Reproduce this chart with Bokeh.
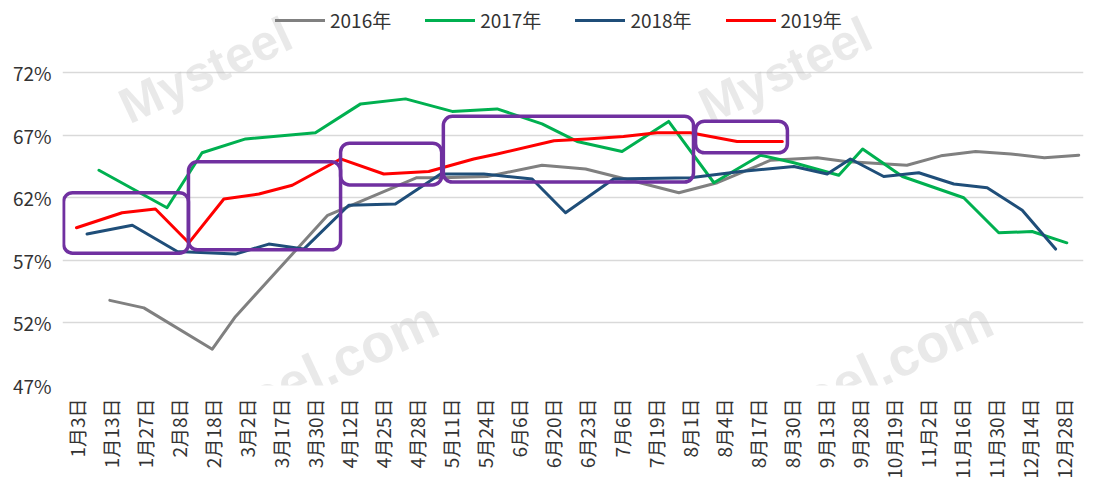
import math
from bokeh.plotting import figure
from bokeh.models import (ColumnDataSource, Legend, LegendItem, FixedTicker,
                          PrintfTickFormatter, BoxAnnotation, Label, Range1d)
from bokeh.embed import file_html
from bokeh.resources import INLINE

# ---------------- data ----------------
categories = ["1月3日", "1月13日", "1月27日", "2月8日", "2月18日", "3月2日", "3月17日",
              "3月30日", "4月12日", "4月25日", "4月28日", "5月11日", "5月24日", "6月6日",
              "6月20日", "6月23日", "7月6日", "7月19日", "8月1日", "8月4日", "8月17日",
              "8月30日", "9月13日", "9月28日", "10月19日", "11月2日", "11月16日",
              "11月30日", "12月14日", "12月28日"]

# x positions are in category units (0 = first label), y values in %
x_2016 = [0.98, 1.98, 3.99, 4.67, 7.38, 10.0, 10.73, 12.07, 13.68, 14.96, 16.13, 17.7,
          18.83, 20.4, 21.77, 22.6, 24.4, 25.4, 26.42, 27.46, 28.44, 29.45]
y_2016 = [53.8, 53.2, 49.9, 52.5, 60.6, 63.6, 63.6, 63.7, 64.6, 64.3, 63.5, 62.4,
          63.2, 65.0, 65.2, 64.9, 64.6, 65.35, 65.7, 65.5, 65.2, 65.4]

x_2017 = [0.66, 2.66, 3.69, 4.97, 7.02, 8.35, 9.67, 11.04, 12.36, 13.68, 14.71, 16.03,
          17.4, 18.73, 20.1, 21.08, 22.4, 23.1, 24.27, 26.07, 27.1, 28.08, 29.1]
y_2017 = [64.2, 61.2, 65.6, 66.7, 67.2, 69.5, 69.9, 68.9, 69.1, 67.9, 66.5, 65.7,
          68.1, 63.2, 65.4, 64.8, 63.8, 65.9, 63.7, 62.0, 59.2, 59.3, 58.4]

x_2018 = [0.31, 1.64, 2.96, 4.67, 5.65, 6.68, 8.0, 9.37, 10.7, 11.97, 13.39, 14.37,
          15.78, 18.04, 19.51, 21.08, 22.06, 22.74, 23.72, 24.75, 25.78, 26.76, 27.79, 28.77]
y_2018 = [59.1, 59.8, 57.7, 57.5, 58.3, 57.9, 61.4, 61.5, 63.9, 63.9, 63.5, 60.8,
          63.5, 63.6, 64.1, 64.5, 63.9, 65.1, 63.7, 64.0, 63.1, 62.8, 61.0, 57.9]

x_2019 = [0.0, 1.34, 2.32, 3.30, 4.33, 5.36, 6.34, 7.76, 9.03, 10.35, 11.67, 12.36,
          14.03, 15.0, 16.07, 17.06, 18.04, 19.41, 20.74]
y_2019 = [59.6, 60.8, 61.1, 58.4, 61.9, 62.3, 63.0, 65.1, 63.9, 64.1, 65.1, 65.5,
          66.55, 66.7, 66.9, 67.2, 67.2, 66.5, 66.5]

y_ticks = [47, 52, 57, 62, 67, 72]

series_names = ["2016年", "2017年", "2018年", "2019年"]
series_colors = ["#808080", "#00B050", "#1F4E79", "#FF0000"]

# highlight boxes (category units / %)
box_left = [-0.38, 3.29, 7.76, 10.78, 18.19]
box_right = [3.29, 7.76, 10.73, 18.13, 20.89]
box_bottom = [57.57, 57.84, 63.02, 63.25, 65.59]
box_top = [62.4, 64.87, 66.36, 68.51, 68.12]

FONT = "'Noto Sans CJK SC', 'Noto Sans', sans-serif"
TXT = "#333333"

# frame reaches the top of the canvas so the legend and watermark above the
# highest gridline are not clipped
p = figure(width=1096, height=481, output_backend="svg", toolbar_location=None,
           x_range=Range1d(-0.411, 29.59), y_range=Range1d(47, 77.76),
           min_border_left=62, min_border_right=13, min_border_top=0,
           min_border_bottom=95)
p.outline_line_color = None
p.background_fill_color = "white"
p.border_fill_color = "white"

# watermark
for (wx, wy, wt, ws) in [(3.79, 72.18, "Mysteel", "50px"), (6.2, 47.08, "Mysteel.com", "54px"),
                         (20.83, 72.18, "Mysteel", "50px"), (22.5, 47.08, "Mysteel.com", "54px")]:
    p.add_layout(Label(x=wx, y=wy, text=wt, angle=math.radians(25),
                       text_align="center", text_baseline="middle",
                       text_font="Liberation Sans", text_font_style="bold",
                       text_font_size=ws, text_color="#BFBFBF", text_alpha=0.35))

renderers = []
xs = [x_2016, x_2017, x_2018, x_2019]
ys = [y_2016, y_2017, y_2018, y_2019]
for xv, yv, c in zip(xs, ys, series_colors):
    src = ColumnDataSource(dict(x=xv, y=yv))
    r = p.line("x", "y", source=src, line_color=c, line_width=3,
               line_join="round", line_cap="round")
    renderers.append(r)

for l, r, b, t in zip(box_left, box_right, box_bottom, box_top):
    p.add_layout(BoxAnnotation(left=l, right=r, bottom=b, top=t, fill_alpha=0,
                               line_color="#7030A0", line_alpha=1.0, line_width=3.5,
                               border_radius=9, level="overlay"))

# axes
p.xaxis.ticker = FixedTicker(ticks=list(range(len(categories))))
p.xaxis.major_label_overrides = {i: c for i, c in enumerate(categories)}
p.xaxis.major_label_orientation = math.pi / 2
p.xaxis.major_label_text_font = FONT
p.xaxis.major_label_text_font_size = "19px"
p.xaxis.major_label_text_color = TXT
p.xaxis.major_label_standoff = 7
p.xaxis.axis_line_color = None
p.xaxis.major_tick_line_color = None
p.xaxis.minor_tick_line_color = None

p.yaxis.ticker = FixedTicker(ticks=y_ticks)
p.yaxis.formatter = PrintfTickFormatter(format="%d%%")
p.yaxis.major_label_text_font = FONT
p.yaxis.major_label_text_font_size = "19px"
p.yaxis.major_label_text_color = TXT
p.yaxis.major_label_standoff = 5
p.yaxis.axis_line_color = None
p.yaxis.major_tick_line_color = None
p.yaxis.minor_tick_line_color = None

p.xgrid.grid_line_color = None
p.ygrid.grid_line_color = "#D9D9D9"
p.ygrid.grid_line_width = 1.5

legend = Legend(items=[LegendItem(label=n, renderers=[r]) for n, r in zip(series_names, renderers)],
                orientation="horizontal", location=(213, 352),
                label_text_font=FONT, label_text_font_size="19px",
                label_text_color=TXT, glyph_width=50, glyph_height=20,
                label_standoff=5, spacing=34, padding=0, margin=0,
                border_line_color=None, background_fill_alpha=0)
p.add_layout(legend)

open("out.html", "w").write(file_html(p, INLINE))
